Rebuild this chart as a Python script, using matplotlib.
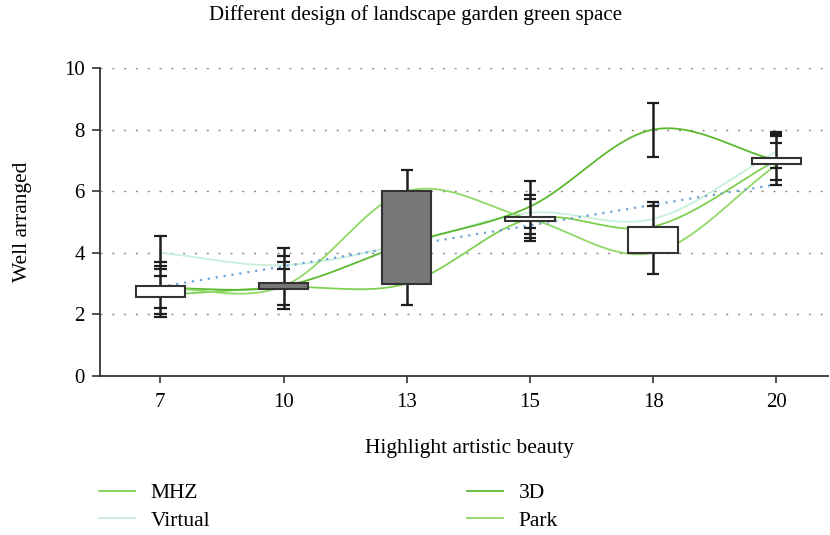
import numpy as np
import matplotlib
matplotlib.use("Agg")
import matplotlib.pyplot as plt

plt.rcParams["font.family"] = ["Liberation Serif", "DejaVu Serif"]

# ---------------------------------------------------------------- data
categories = ["7", "10", "13", "15", "18", "20"]

box_low  = [2.58, 2.83, 3.00, 5.04, 4.00, 6.88]
box_high = [2.91, 3.01, 6.00, 5.15, 4.85, 7.07]
box_fill = ["white", "#777777", "#777777", "white", "white", "white"]

# error-bar caps above / below each box
caps_high = [[4.55, 3.70, 3.57, 3.46, 3.26],
             [4.15, 3.90, 3.69, 3.46],
             [6.69],
             [6.33, 5.88, 5.75],
             [5.66, 5.53],
             [7.91, 7.85, 7.79, 7.58]]
caps_low = [[2.22, 2.02, 1.92],
            [2.31, 2.16],
            [2.31],
            [4.79, 4.60, 4.47, 4.38],
            [3.32],
            [6.74, 6.36, 6.20]]

# separate error bar on the 3D peak
peak_idx   = 4
peak_range = [7.12, 8.85]

mhz     = [2.62, 2.88, 3.00, 5.10, 4.85, 7.00]
virtual = [4.00, 3.60, 4.30, 5.30, 5.10, 7.28]
three_d = [2.85, 2.92, 4.30, 5.50, 8.00, 7.00]
park    = [2.85, 2.92, 6.00, 5.10, 4.00, 6.85]
trend   = [2.90, 3.56, 4.23, 4.89, 5.56, 6.22]

series = [("MHZ", mhz, "#7fd052"), ("Virtual", virtual, "#c8efd8"),
          ("3D", three_d, "#5cb92f"), ("Park", park, "#8fd866")]


def smooth_curve(x, y, n=60):
    """Catmull-Rom style smoothing through the points."""
    x = np.asarray(x, float); y = np.asarray(y, float)
    m = np.zeros_like(y)
    m[1:-1] = (y[2:] - y[:-2]) / (x[2:] - x[:-2])
    m[0] = (y[1] - y[0]) / (x[1] - x[0])
    m[-1] = (y[-1] - y[-2]) / (x[-1] - x[-2])
    xs, ys = [], []
    for i in range(len(x) - 1):
        h = x[i + 1] - x[i]
        t = np.linspace(0, 1, n, endpoint=(i == len(x) - 2))
        h00 = 2 * t**3 - 3 * t**2 + 1
        h10 = t**3 - 2 * t**2 + t
        h01 = -2 * t**3 + 3 * t**2
        h11 = t**3 - t**2
        xs.append(x[i] + t * h)
        ys.append(h00 * y[i] + h10 * h * m[i] + h01 * y[i + 1] + h11 * h * m[i + 1])
    return np.concatenate(xs), np.concatenate(ys)


# ---------------------------------------------------------------- figure
fig = plt.figure(figsize=(8.3, 5.35), dpi=100)
ax = fig.add_axes([100 / 830, 1 - 376 / 535, 728 / 830, 308 / 535])

pos = np.arange(len(categories))

handles = []
for name, vals, col in series:
    cx, cy = smooth_curve(pos, vals)
    ln, = ax.plot(cx, cy, color=col, lw=1.3, zorder=2, label=name)
    handles.append(ln)

ax.plot(pos, trend, color="#6fa3d8", lw=1.6, ls=(0, (1, 2.6)), zorder=2.5)

# whiskers + caps
wcol = "#1e1e1e"
for i in range(len(categories)):
    top, bot = max(caps_high[i]), min(caps_low[i])
    ax.vlines(pos[i], bot, top, color=wcol, lw=1.8, zorder=3)
    for v in caps_high[i] + caps_low[i]:
        ax.hlines(v, pos[i] - 0.05, pos[i] + 0.05, color=wcol, lw=1.6, zorder=3)
ax.vlines(pos[peak_idx], peak_range[0], peak_range[1], color=wcol, lw=1.8, zorder=3)
for v in peak_range:
    ax.hlines(v, pos[peak_idx] - 0.05, pos[peak_idx] + 0.05, color=wcol, lw=1.6, zorder=3)

# boxes
ax.bar(pos, np.array(box_high) - np.array(box_low), bottom=box_low, width=0.4,
       color=box_fill, edgecolor="#333333", linewidth=1.5, zorder=4)

ax.set_xlim(-0.49, 5.42)
ax.set_ylim(0, 10)
ax.set_xticks(pos)
ax.set_xticklabels(categories)
ax.set_yticks(np.arange(0, 11, 2))

for s in ["top", "right"]:
    ax.spines[s].set_visible(False)
for s in ["left", "bottom"]:
    ax.spines[s].set_color("#333333")
    ax.spines[s].set_linewidth(1.3)

ax.tick_params(axis="y", length=6, width=1.2, color="#333333", labelsize=15, pad=5)
ax.tick_params(axis="x", length=5, width=1.2, color="#333333", labelsize=15, pad=7)

ax.yaxis.grid(True, color="#888888", lw=1.0, ls=(0, (1.5, 7)))
ax.set_axisbelow(True)

fig.text(0.5, 1 - 15 / 535, "Different design of landscape garden green space",
         ha="center", va="center", fontsize=15)
fig.text(469 / 830, 1 - 448 / 535, "Highlight artistic beauty",
         ha="center", va="center", fontsize=15.5)
fig.text(22 / 830, 1 - 222 / 535, "Well arranged", rotation=90,
         ha="center", va="center", fontsize=15.5)

leg_kw = dict(loc="center left", frameon=False, fontsize=15.5,
              handlelength=1.65, handletextpad=0.75, labelspacing=0.35,
              borderpad=0, borderaxespad=0)
fig.legend(handles=[handles[0], handles[1]],
           bbox_to_anchor=(99 / 830, 1 - 507 / 535), **leg_kw)
fig.legend(handles=[handles[2], handles[3]],
           bbox_to_anchor=(467 / 830, 1 - 507 / 535), **leg_kw)

fig.savefig("out.png", dpi=100)
